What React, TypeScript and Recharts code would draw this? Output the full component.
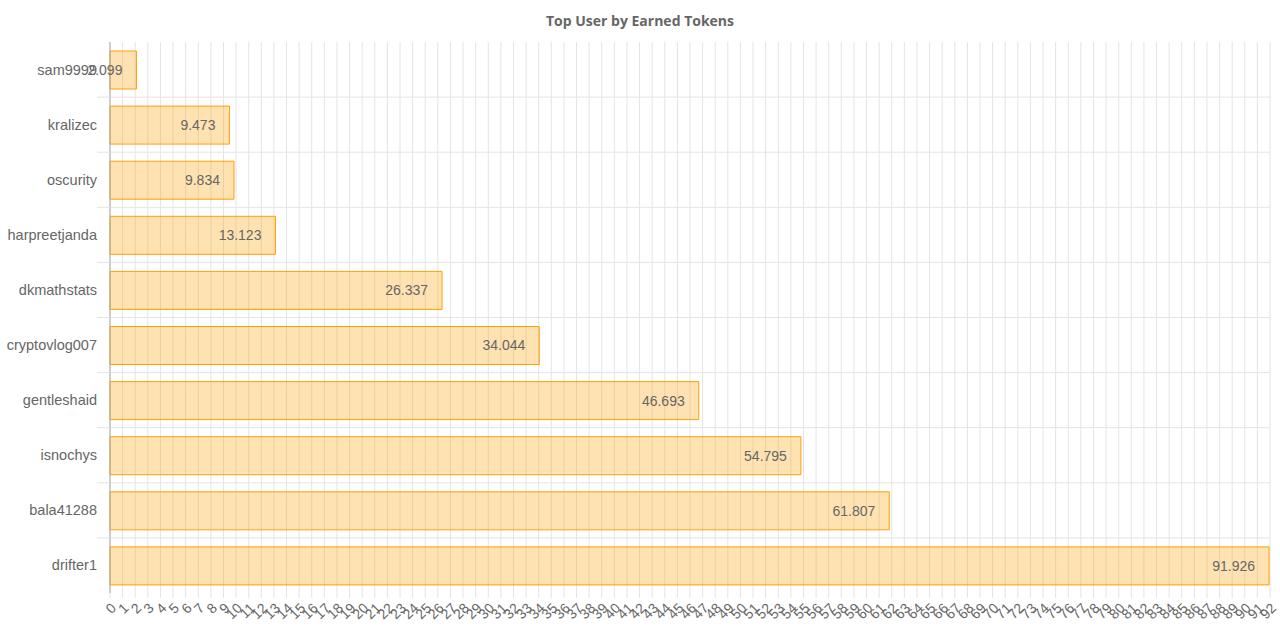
import React from 'react';
import {
    BarChart,
    Bar,
    XAxis,
    YAxis,
    CartesianGrid,
    LabelList
} from 'recharts';

const users = [
    'sam9999',
    'kralizec',
    'oscurity',
    'harpreetjanda',
    'dkmathstats',
    'cryptovlog007',
    'gentleshaid',
    'isnochys',
    'bala41288',
    'drifter1'
];

const earnedTokens = [2.099, 9.473, 9.834, 13.123, 26.337, 34.044, 46.693, 54.795, 61.807, 91.926];

const xTicks = [
    0, 1, 2, 3, 4, 5, 6, 7, 8, 9, 10, 11, 12, 13, 14, 15, 16, 17, 18, 19, 20,
    21, 22, 23, 24, 25, 26, 27, 28, 29, 30, 31, 32, 33, 34, 35, 36, 37, 38, 39, 40,
    41, 42, 43, 44, 45, 46, 47, 48, 49, 50, 51, 52, 53, 54, 55, 56, 57, 58, 59, 60,
    61, 62, 63, 64, 65, 66, 67, 68, 69, 70, 71, 72, 73, 74, 75, 76, 77, 78, 79, 80,
    81, 82, 83, 84, 85, 86, 87, 88, 89, 90, 91, 92
];

const data = users.map((name, i) => ({ name, value: earnedTokens[i] }));

const WIDTH = 1280;
const HEIGHT = 640;
const MARGIN = { top: 42, right: 10, bottom: 0, left: 0 };
const X_AXIS_HEIGHT = 47;
const PLOT_HEIGHT = HEIGHT - MARGIN.top - MARGIN.bottom - X_AXIS_HEIGHT;
const BAND = PLOT_HEIGHT / users.length;

const GRID = '#e4e4e4';
const TEXT = '#666';

// category labels centred in the band, tick marks on the band boundaries (echarts style)
const UserTick = (props: any) => {
    const { x, y, payload, index } = props;
    return (
        <g>
            {index > 0 && (
                <line x1={x} x2={x + 13} y1={y - BAND / 2} y2={y - BAND / 2} stroke={GRID} />
            )}
            <text x={x} y={y} dy={5} textAnchor="end" fill={TEXT} fontSize={14.5}>
                {payload.value}
            </text>
        </g>
    );
};

const boundaryLines = ({ offset }: any) => {
    const lines: number[] = [];
    const step = offset.height / users.length;
    for (let i = 1; i < users.length; i++) lines.push(offset.top + step * i);
    return lines;
};

export default function App() {
    return (
        <div
            style={{
                position: 'absolute',
                left: 0,
                top: 0,
                width: WIDTH,
                height: HEIGHT,
                background: '#fff',
                fontFamily: '"Liberation Sans", Arial, sans-serif'
            }}
        >
            <div
                style={{
                    position: 'absolute',
                    top: 11,
                    left: 0,
                    width: WIDTH,
                    textAlign: 'center',
                    fontFamily: '"Open Sans", sans-serif',
                    fontWeight: 700,
                    fontSize: 14,
                    color: TEXT
                }}
            >
                Top User by Earned Tokens
            </div>
            <BarChart
                width={WIDTH}
                height={HEIGHT}
                data={data}
                layout="vertical"
                margin={MARGIN}
                barCategoryGap={0}
            >
                <CartesianGrid
                    stroke={GRID}
                    horizontalCoordinatesGenerator={boundaryLines}
                />
                <XAxis
                    type="number"
                    domain={[0, 92]}
                    ticks={xTicks}
                    interval={0}
                    height={X_AXIS_HEIGHT}
                    axisLine={false}
                    tickLine={{ stroke: GRID }}
                    tickSize={5}
                    tickMargin={4}
                    angle={-45}
                    textAnchor="end"
                    tick={{ fill: TEXT, fontSize: 14 }}
                />
                <YAxis
                    type="category"
                    dataKey="name"
                    width={110}
                    axisLine={{ stroke: '#aaa' }}
                    tickLine={false}
                    tickSize={0}
                    tickMargin={13}
                    interval={0}
                    tick={<UserTick />}
                />
                <Bar
                    dataKey="value"
                    fill="rgba(255,160,0,0.3)"
                    stroke="#FFA000"
                    strokeWidth={1}
                    barSize={38}
                    isAnimationActive={false}
                >
                    <LabelList
                        dataKey="value"
                        position="insideRight"
                        offset={14}
                        fill={TEXT}
                        fontSize={14}
                    />
                </Bar>
            </BarChart>
        </div>
    );
}
